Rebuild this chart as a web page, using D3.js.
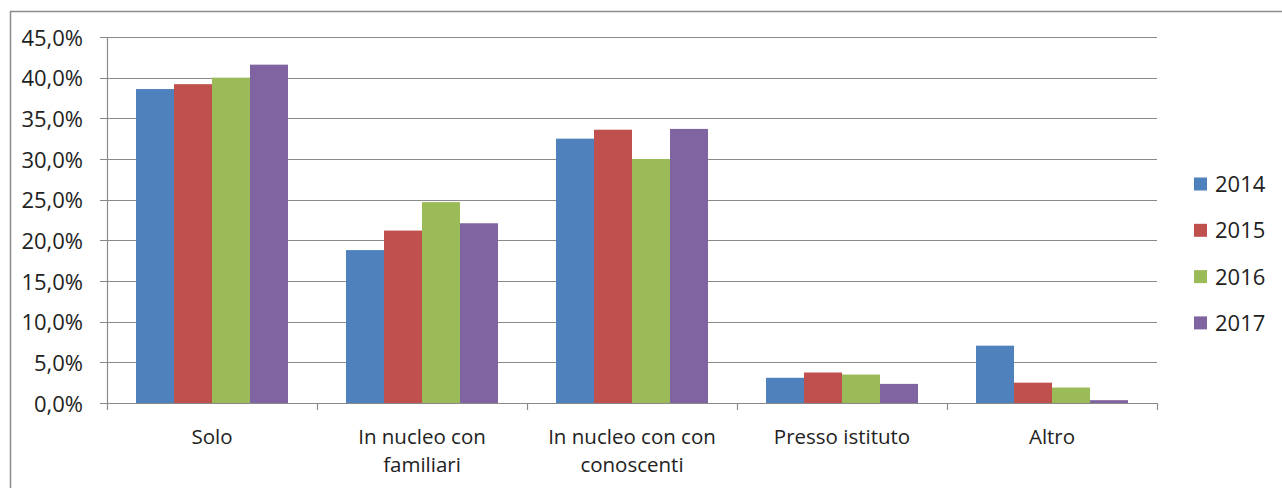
<!DOCTYPE html>
<html>
<head>
<meta charset="utf-8">
<script src="https://cdnjs.cloudflare.com/ajax/libs/d3/7.8.5/d3.min.js"></script>
<style>
  body { margin: 0; background: #fff; }
  text { font-family: "Open Sans", "Liberation Sans", sans-serif; fill: #222; }
</style>
</head>
<body>
<script>
var categories = [["Solo"], ["In nucleo con", "familiari"], ["In nucleo con con", "conoscenti"], ["Presso istituto"], ["Altro"]];
var years = ["2014", "2015", "2016", "2017"];
var values2014 = [38.6, 18.8, 32.5, 3.1, 7.05];
var values2015 = [39.2, 21.2, 33.6, 3.75, 2.5];
var values2016 = [40.0, 24.7, 30.0, 3.5, 1.9];
var values2017 = [41.6, 22.1, 33.7, 2.35, 0.35];
var yTicks = [0, 5, 10, 15, 20, 25, 30, 35, 40, 45];
var colors = ["#4F81BD", "#C0504D", "#9BBB59", "#8064A2"];

var width = 1282, height = 488;
var series = [values2014, values2015, values2016, values2017];

var svg = d3.select("body").append("svg")
  .attr("width", width)
  .attr("height", height);

// outer chart border
svg.append("rect")
  .attr("x", 10.5).attr("y", 11.5)
  .attr("width", 1300).attr("height", 500)
  .attr("fill", "none").attr("stroke", "#8c8c8c").attr("stroke-width", 1.5);

var plotLeft = 107, plotRight = 1157, plotTop = 37, plotBottom = 403;

var x = d3.scaleBand()
  .domain(d3.range(categories.length))
  .range([plotLeft, plotRight]);

var xInner = d3.scaleBand()
  .domain(d3.range(years.length))
  .range([29, x.bandwidth() - 29]);

var y = d3.scaleLinear()
  .domain([0, 45])
  .range([plotBottom, plotTop]);

// gridlines
svg.append("g").selectAll("line")
  .data(yTicks)
  .enter().append("line")
  .attr("x1", plotLeft - 7).attr("x2", plotRight)
  .attr("y1", function (d) { return Math.round(y(d)) + 0.5; })
  .attr("y2", function (d) { return Math.round(y(d)) + 0.5; })
  .attr("stroke", "#8a8a8a").attr("stroke-width", 1.2);

// y labels
svg.append("g").selectAll("text")
  .data(yTicks)
  .enter().append("text")
  .attr("x", 83)
  .attr("y", function (d) { return y(d) + 8.5; })
  .attr("text-anchor", "end")
  .style("font-size", "22px")
  .text(function (d) { return d.toFixed(1).replace(".", ",") + "%"; });

// bars
var groups = svg.append("g").selectAll("g")
  .data(categories)
  .enter().append("g")
  .attr("transform", function (d, i) { return "translate(" + x(i) + ",0)"; });

groups.selectAll("rect")
  .data(function (d, i) { return series.map(function (s) { return s[i]; }); })
  .enter().append("rect")
  .attr("x", function (d, j) { return xInner(j); })
  .attr("width", xInner.bandwidth())
  .attr("y", function (d) { return y(d); })
  .attr("height", function (d) { return plotBottom - y(d); })
  .attr("fill", function (d, j) { return colors[j]; });

// axes lines
svg.append("line")
  .attr("x1", plotLeft + 0.5).attr("x2", plotLeft + 0.5)
  .attr("y1", plotTop).attr("y2", plotBottom + 7)
  .attr("stroke", "#8a8a8a").attr("stroke-width", 1.2);
svg.append("line")
  .attr("x1", plotLeft).attr("x2", plotRight)
  .attr("y1", plotBottom + 0.5).attr("y2", plotBottom + 0.5)
  .attr("stroke", "#8a8a8a").attr("stroke-width", 1.2);
svg.append("g").selectAll("line")
  .data(d3.range(1, categories.length + 1))
  .enter().append("line")
  .attr("x1", function (i) { return Math.round(plotLeft + i * x.step()) + 0.5; })
  .attr("x2", function (i) { return Math.round(plotLeft + i * x.step()) + 0.5; })
  .attr("y1", plotBottom).attr("y2", plotBottom + 7)
  .attr("stroke", "#8a8a8a").attr("stroke-width", 1.2);

// category labels
var labels = svg.append("g").selectAll("text")
  .data(categories)
  .enter().append("text")
  .attr("text-anchor", "middle")
  .style("font-size", "20.5px")
  .attr("x", function (d, i) { return x(i) + x.bandwidth() / 2; })
  .attr("y", 444);

labels.selectAll("tspan")
  .data(function (d) { return d; })
  .enter().append("tspan")
  .attr("x", function () { return d3.select(this.parentNode).attr("x"); })
  .attr("dy", function (d, k) { return k === 0 ? 0 : 28; })
  .text(function (d) { return d; });

// legend
var legend = svg.append("g").selectAll("g")
  .data(years)
  .enter().append("g")
  .attr("transform", function (d, i) { return "translate(1194," + (184 + i * 46.3) + ")"; });

legend.append("rect")
  .attr("x", 0).attr("y", -6.5)
  .attr("width", 13).attr("height", 13)
  .attr("fill", function (d, i) { return colors[i]; });

legend.append("text")
  .attr("x", 21).attr("y", 8)
  .style("font-size", "22px")
  .text(function (d) { return d; });
</script>
</body>
</html>
